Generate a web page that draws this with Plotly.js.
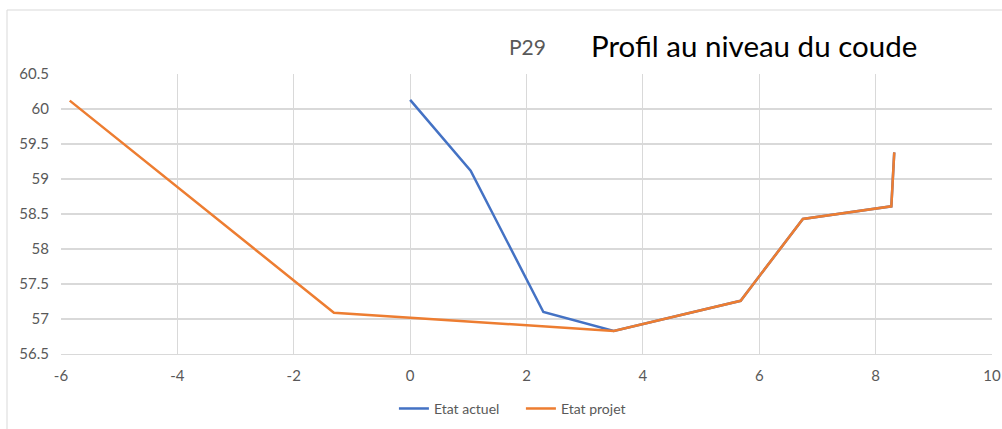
<!DOCTYPE html>
<html>
<head>
<meta charset="utf-8">
<script src="https://cdn.plot.ly/plotly-3.0.1.min.js"></script>
<style>html,body{margin:0;padding:0;background:#fff;}#chart{width:1002px;height:429px;}</style>
</head>
<body>
<div id="chart"></div>
<script>
// Data
const actuelX = [0, 1.04, 2.29, 3.5, 5.68, 6.75, 8.27, 8.32];
const actuelY = [60.13, 59.12, 57.1, 56.83, 57.26, 58.43, 58.61, 59.38];
const projetX = [-5.85, -1.31, 3.5, 5.68, 6.75, 8.27, 8.32];
const projetY = [60.12, 57.09, 56.83, 57.26, 58.43, 58.61, 59.38];
const seriesNames = ["Etat actuel", "Etat projet"];
const titleLabel = "P29";
const titleText = "Profil au niveau du coude";
const xTicks = [-6, -4, -2, 0, 2, 4, 6, 8, 10];
const yTicks = [56.5, 57, 57.5, 58, 58.5, 59, 59.5, 60, 60.5];

const font = "Lato, 'Open Sans', sans-serif";
const traces = [
  {x: actuelX, y: actuelY, name: seriesNames[0], mode: "lines", type: "scatter",
   line: {color: "#4472C4", width: 2.5}},
  {x: projetX, y: projetY, name: seriesNames[1], mode: "lines", type: "scatter",
   line: {color: "#ED7D31", width: 2.5}}
];
const layout = {
  width: 1002, height: 429,
  margin: {l: 61, r: 10, t: 74, b: 75, autoexpand: false},
  paper_bgcolor: "#fff", plot_bgcolor: "#fff",
  font: {family: font, color: "#595959", size: 15},
  xaxis: {range: [-6, 10], tickvals: xTicks, ticktext: xTicks.map(String),
    showgrid: true, gridcolor: "#d9d9d9", gridwidth: 1.2, zeroline: false,
    showline: true, linecolor: "#d9d9d9", linewidth: 1.2, ticks: "", ticklabelstandoff: 8,
    tickfont: {size: 15, color: "#595959"}},
  yaxis: {range: [56.5, 60.5], tickvals: yTicks, ticktext: yTicks.map(String),
    showgrid: true, gridcolor: "#d9d9d9", gridwidth: 1.2, zeroline: false,
    showline: false, ticks: "", ticklabelstandoff: 11,
    tickfont: {size: 15, color: "#595959"}},
  showlegend: true,
  legend: {orientation: "h", x: 0.494, xanchor: "center", y: -0.196, yanchor: "middle",
    font: {size: 14, color: "#595959"}, itemwidth: 30, tracegroupgap: 0, entrywidth: 82},
  annotations: [
    {text: titleLabel, xref: "paper", yref: "paper", x: (527 - 61) / 931, y: 1 + (74 - 47) / 280,
     xanchor: "center", yanchor: "middle", showarrow: false, font: {size: 21, color: "#595959", family: font}},
    {text: titleText, xref: "paper", yref: "paper", x: (754 - 61) / 931, y: 1 + (74 - 46) / 280,
     xanchor: "center", yanchor: "middle", showarrow: false, font: {size: 29.5, color: "#000", family: font}}
  ],
  shapes: [
    {type: "rect", xref: "paper", yref: "paper", x0: (7 - 61) / 931, x1: (1010 - 61) / 931,
     y0: -(440 - 354) / 280, y1: 1 + (74 - 10) / 280, line: {color: "#d9d9d9", width: 1}, layer: "below"}
  ]
};
Plotly.newPlot("chart", traces, layout, {displayModeBar: false, staticPlot: true});
</script>
</body>
</html>
